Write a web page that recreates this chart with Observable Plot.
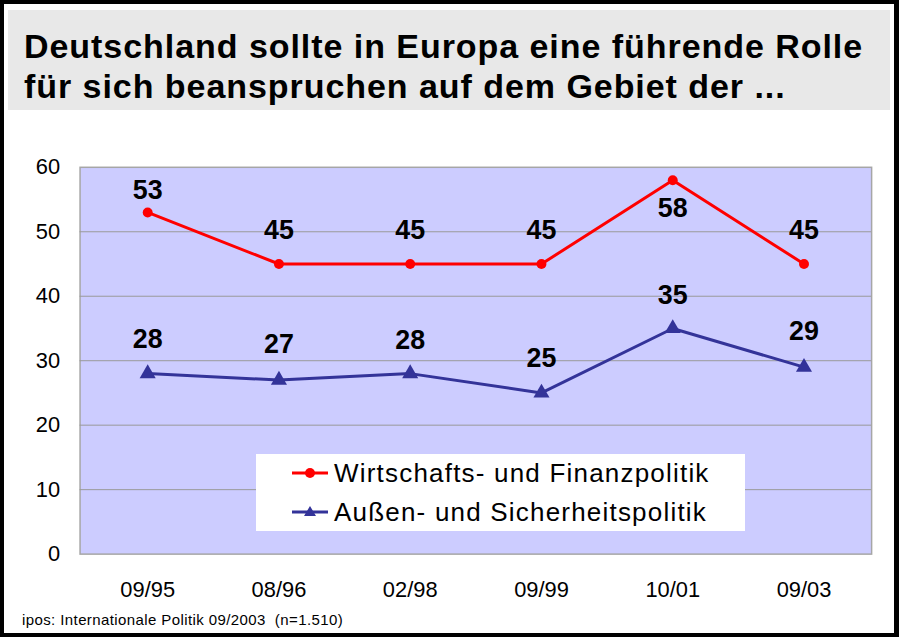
<!DOCTYPE html>
<html>
<head>
<meta charset="utf-8">
<script src="https://cdn.jsdelivr.net/npm/d3@7"></script>
<script src="https://cdn.jsdelivr.net/npm/@observablehq/plot@0.6"></script>
<style>
  html, body { margin: 0; padding: 0; background: #fff; }
  #page { position: relative; width: 899px; height: 637px; box-sizing: border-box; border: 4px solid #000; border-right-width: 5px; overflow: hidden; font-family: "Liberation Sans", Arial, sans-serif; }
  #title { position: absolute; left: 4px; top: 6px; width: 882px; height: 100px; background: #e8e8e8; box-sizing: border-box; padding: 16px 0 0 16px; font-weight: bold; font-size: 34px; letter-spacing: 0.95px; line-height: 40px; color: #000; white-space: nowrap; }
  #chart { position: absolute; left: -4px; top: 126px; }
  #legend { position: absolute; left: 252px; top: 450px; width: 489px; height: 77px; background: #fff; }
  #legend .item { position: absolute; left: 0; height: 36px; display: flex; align-items: center; font-size: 26px; letter-spacing: 1.2px; color: #000; white-space: nowrap; }
  #legend svg { margin-left: 36px; margin-right: 6px; }
  #caption { position: absolute; left: 18px; top: 607px; font-size: 15px; letter-spacing: 0.4px; white-space: pre; color: #000; }
</style>
</head>
<body>
<div id="page">
  <div id="title"></div>
  <div id="chart"></div>
  <div id="legend"></div>
  <div id="caption"></div>
</div>
<script>
const titleLines = ["Deutschland sollte in Europa eine führende Rolle", "für sich beanspruchen auf dem Gebiet der ..."];
const categories = ["09/95", "08/96", "02/98", "09/99", "10/01", "09/03"];
const wirtschaftValues = [53, 45, 45, 45, 58, 45];
const aussenValues = [28, 27, 28, 25, 35, 29];
const seriesNames = ["Wirtschafts- und Finanzpolitik", "Außen- und Sicherheitspolitik"];
const yTicks = [0, 10, 20, 30, 40, 50, 60];
const captionText = "ipos: Internationale Politik 09/2003  (n=1.510)";

// label nudges (vertical offsets in px for value labels, styling only)
const wirtschaftLabelDy = [-22, -34, -34, -34, 28, -34];
const aussenLabelDy = [-34, -36, -33, -35, -33, -36];

const red = "#ff0000";
const blue = "#333399";

document.getElementById("title").innerHTML = titleLines.join("<br>");
document.getElementById("caption").textContent = captionText;

const redData = categories.map((c, i) => ({cat: c, value: wirtschaftValues[i], dy: wirtschaftLabelDy[i]}));
const blueData = categories.map((c, i) => ({cat: c, value: aussenValues[i], dy: aussenLabelDy[i]}));

function labels(data) {
  return data.map(d => Plot.text([d], {x: "cat", y: "value", text: d => String(d.value), dy: d.dy, fontSize: 27, fontWeight: "bold", fill: "#000", lineAnchor: "middle"}));
}

const chart = Plot.plot({
  width: 899,
  height: 474,
  marginTop: 37,
  marginBottom: 48,
  marginLeft: 80,
  marginRight: 23,
  style: {fontFamily: "'Liberation Sans', Arial, sans-serif", background: "transparent", color: "#000"},
  x: {type: "point", domain: categories, padding: 0.5, label: null},
  y: {domain: [0, 60], label: null},
  marks: [
    Plot.frame({fill: "#ccccff", stroke: "#a6a6a6", strokeWidth: 1.5}),
    Plot.ruleY(yTicks.filter(t => t > 0 && t < 60), {stroke: "#999999", strokeWidth: 1}),
    Plot.axisY({ticks: yTicks, tickSize: 0, tickPadding: 20, fontSize: 22, label: null, tickFormat: d => String(d)}),
    Plot.axisX({tickSize: 0, tickPadding: 27, fontSize: 22, label: null}),
    Plot.line(redData, {x: "cat", y: "value", stroke: red, strokeWidth: 3}),
    Plot.dot(redData, {x: "cat", y: "value", r: 5, fill: red, stroke: "none"}),
    Plot.line(blueData, {x: "cat", y: "value", stroke: blue, strokeWidth: 3}),
    Plot.dot(blueData, {x: "cat", y: "value", r: 6, symbol: "triangle", fill: blue, stroke: "none"}),
    ...labels(redData),
    ...labels(blueData)
  ]
});
document.getElementById("chart").appendChild(chart);

// legend
const legend = document.getElementById("legend");
const legendItems = [
  {name: seriesNames[0], color: red, symbol: "circle"},
  {name: seriesNames[1], color: blue, symbol: "triangle"}
];
legendItems.forEach((it, i) => {
  const div = document.createElement("div");
  div.className = "item";
  div.style.top = (1 + i * 39) + "px";
  const sym = it.symbol === "circle"
    ? `<circle cx="18" cy="10" r="5" fill="${it.color}"/>`
    : `<path d="M18,4 L24,14 L12,14 Z" fill="${it.color}"/>`;
  div.innerHTML = `<svg width="36" height="20" viewBox="0 0 36 20"><line x1="0" y1="10" x2="36" y2="10" stroke="${it.color}" stroke-width="3"/>${sym}</svg><span></span>`;
  div.querySelector("span").textContent = it.name;
  legend.appendChild(div);
});
</script>
</body>
</html>
